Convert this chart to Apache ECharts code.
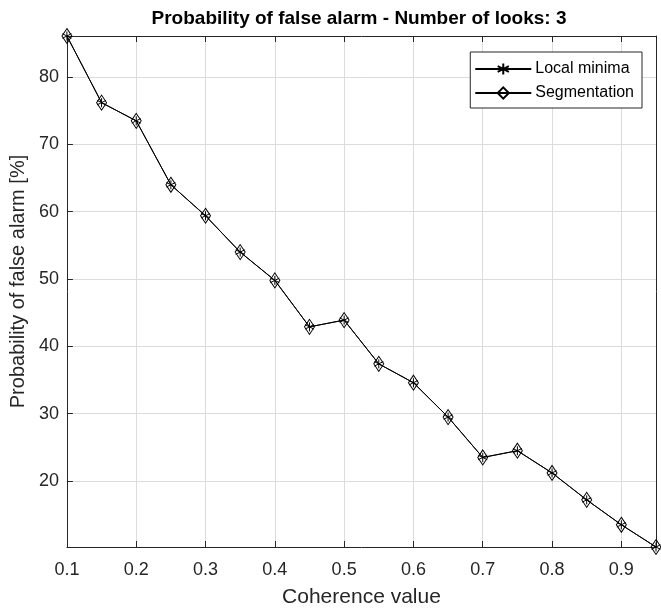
<!DOCTYPE html>
<html>
<head>
<meta charset="utf-8">
<script src="https://cdn.jsdelivr.net/npm/echarts@6/dist/echarts.min.js"></script>
<style>
html, body { margin: 0; padding: 0; background: #fff; }
#chart { width: 661px; height: 613px; }
</style>
</head>
<body>
<div id="chart"></div>
<script>
var coherence = [0.1, 0.15, 0.2, 0.25, 0.3, 0.35, 0.4, 0.45, 0.5, 0.55, 0.6, 0.65, 0.7, 0.75, 0.8, 0.85, 0.9, 0.95];
var localMinima = [86.1, 76.2, 73.5, 64.0, 59.4, 54.0, 49.8, 42.9, 43.9, 37.4, 34.6, 29.5, 23.5, 24.5, 21.2, 17.2, 13.5, 10.2];
var segmentation = [86.1, 76.2, 73.5, 64.0, 59.4, 54.0, 49.8, 42.9, 43.9, 37.4, 34.6, 29.5, 23.5, 24.5, 21.2, 17.2, 13.5, 10.2];
var xTicks = [0.1, 0.2, 0.3, 0.4, 0.5, 0.6, 0.7, 0.8, 0.9];
var yTicks = [20, 30, 40, 50, 60, 70, 80];

var chart = echarts.init(document.getElementById('chart'));
var font = 'Liberation Sans';
var ink = '#262626';
var asterisk = 'path://M0,-5L0,5M-4.33,-2.5L4.33,2.5M-4.33,2.5L4.33,-2.5';

function pairs(ys) {
    var out = [];
    for (var i = 0; i < coherence.length; i++) {
        out.push([coherence[i], ys[i]]);
    }
    return out;
}

// top / right axes only close the box (MATLAB style), no labels
function boxAxis(pos, isX) {
    var ticks = isX ? xTicks : yTicks;
    return {
        type: 'value',
        position: pos,
        min: isX ? 0.1 : 'dataMin',
        max: isX ? 0.95 : 'dataMax',
        axisLine: { show: true, onZero: false, lineStyle: { color: ink, width: 1 } },
        axisTick: { show: true, inside: true, length: 6, customValues: ticks, lineStyle: { color: ink } },
        axisLabel: { show: false },
        splitLine: { show: false }
    };
}

chart.setOption({
    animation: false,
    backgroundColor: '#fff',
    title: {
        text: 'Probability of false alarm - Number of looks: 3',
        left: 354,
        textAlign: 'center',
        top: 4,
        textStyle: { fontFamily: font, fontSize: 19, fontWeight: 'bold', color: '#000' }
    },
    legend: {
        orient: 'vertical',
        right: 19,
        top: 52,
        padding: [9, 8, 7, 4],
        itemWidth: 56,
        itemHeight: 14,
        itemGap: 8,
        borderColor: ink,
        borderWidth: 1,
        backgroundColor: '#fff',
        textStyle: { fontFamily: font, fontSize: 16, color: '#000', padding: [0, 0, 0, -1] },
        data: ['Local minima', 'Segmentation']
    },
    grid: { left: 65, right: 5, top: 36, bottom: 62, containLabel: false },
    xAxis: [{
        type: 'value',
        min: 0.1,
        max: 0.95,
        name: 'Coherence value',
        nameLocation: 'middle',
        nameGap: 40,
        nameTextStyle: { fontFamily: font, fontSize: 21, color: ink },
        axisLine: { show: true, onZero: false, lineStyle: { color: ink, width: 1 } },
        axisTick: { show: true, inside: true, length: 6, customValues: xTicks, lineStyle: { color: ink } },
        axisLabel: {
            customValues: xTicks,
            margin: 14,
            fontFamily: font, fontSize: 18, color: ink,
            formatter: function (v) { return v.toFixed(1); }
        },
        splitLine: { show: true, lineStyle: { color: '#dcdcdc', width: 1 } }
    }, boxAxis('top', true)],
    yAxis: [{
        type: 'value',
        min: 'dataMin',
        max: 'dataMax',
        name: 'Probability of false alarm [%]',
        nameLocation: 'middle',
        nameGap: 36,
        nameTextStyle: { fontFamily: font, fontSize: 20, color: ink, padding: [0, 0, 0, 20] },
        axisLine: { show: true, onZero: false, lineStyle: { color: ink, width: 1 } },
        axisTick: { show: true, inside: true, length: 6, customValues: yTicks, lineStyle: { color: ink } },
        axisLabel: { customValues: yTicks, margin: 8, fontFamily: font, fontSize: 18, color: ink },
        splitLine: { show: true, lineStyle: { color: '#dcdcdc', width: 1 } }
    }, boxAxis('right', false)],
    series: [{
        name: 'Local minima',
        type: 'line',
        xAxisIndex: 0,
        yAxisIndex: 0,
        data: pairs(localMinima),
        symbol: asterisk,
        symbolSize: 9,
        lineStyle: { color: '#000', width: 1 },
        itemStyle: { color: 'transparent', borderColor: '#000', borderWidth: 1 },
        z: 3
    }, {
        name: 'Segmentation',
        type: 'line',
        xAxisIndex: 0,
        yAxisIndex: 0,
        data: pairs(segmentation),
        symbol: 'diamond',
        symbolSize: [10, 15],
        lineStyle: { color: '#000', width: 1 },
        itemStyle: { color: 'rgba(255,255,255,0)', borderColor: '#000', borderWidth: 1 },
        z: 2
    }]
});
</script>
</body>
</html>
